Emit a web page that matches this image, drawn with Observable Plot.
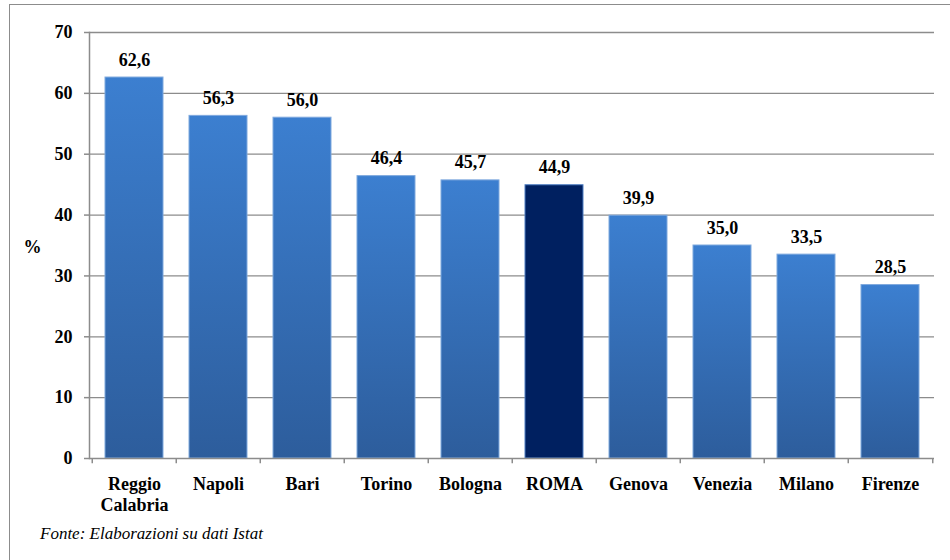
<!DOCTYPE html>
<html>
<head>
<meta charset="utf-8">
<script src="https://cdn.jsdelivr.net/npm/d3@7"></script>
<script src="https://cdn.jsdelivr.net/npm/@observablehq/plot@0.6"></script>
<style>
  html, body { margin: 0; padding: 0; background: #fff; }
  #wrap { position: relative; width: 950px; height: 560px; overflow: hidden; }
  #border { position: absolute; left: 9px; top: 4px; width: 980px; height: 600px; border: 1.5px solid #8c8c8c; box-sizing: border-box; }
  #chart { position: absolute; left: 0; top: 0; }
  #caption { position: absolute; left: 40px; top: 524px; font-family: "Liberation Serif", Tinos, "Times New Roman", Times, "DejaVu Serif", serif; font-style: italic; font-size: 17px; line-height: 20px; color: #000; }
</style>
</head>
<body>
<div id="wrap">
  <div id="border"></div>
  <div id="chart"></div>
  <div id="caption">Fonte: Elaborazioni su dati Istat</div>
</div>
<script>
const cities = ["Reggio Calabria", "Napoli", "Bari", "Torino", "Bologna", "ROMA", "Genova", "Venezia", "Milano", "Firenze"];
const cityLabels = ["Reggio\nCalabria", "Napoli", "Bari", "Torino", "Bologna", "ROMA", "Genova", "Venezia", "Milano", "Firenze"];
const values = [62.6, 56.3, 56.0, 46.4, 45.7, 44.9, 39.9, 35.0, 33.5, 28.5];
const yTicks = [0, 10, 20, 30, 40, 50, 60, 70];
const highlight = "ROMA";

const data = cities.map((c, i) => ({city: c, label: cityLabels[i], value: values[i]}));
const fmt = d3.formatLocale({decimal: ",", thousands: ".", grouping: [3], currency: ["€", ""]}).format(".1f");

const W = 950, H = 520, mL = 89, mR = 16, mT = 32, mB = 62;
const step = (W - mL - mR) / cities.length;
const gray = "#8c8c8c";
const serif = "\"Liberation Serif\", Tinos, \"Times New Roman\", Times, \"DejaVu Serif\", serif";

const plot = Plot.plot({
  width: W,
  height: H,
  marginLeft: mL,
  marginRight: mR,
  marginTop: mT,
  marginBottom: mB,
  style: {fontFamily: serif, fontSize: "18px", fontWeight: "bold", color: "#000", background: "transparent"},
  x: {domain: cities, paddingInner: 0.31, paddingOuter: 0.155, axis: null},
  y: {domain: [0, 70], ticks: yTicks, axis: null},
  marks: [
    Plot.gridY(yTicks.filter(t => t > 0), {stroke: gray, strokeOpacity: 1, strokeWidth: 1.3}),
    Plot.barY(data.filter(d => d.city !== highlight), {x: "city", y: "value", fill: "url(#barGrad)", stroke: "#7fa9de", strokeWidth: 1}),
    Plot.barY(data.filter(d => d.city === highlight), {x: "city", y: "value", fill: "#002060", stroke: "#4f7fc4", strokeWidth: 1}),
    Plot.ruleY([0], {stroke: gray, strokeWidth: 1.5}),
    Plot.frame({anchor: "left", stroke: gray, strokeWidth: 1.5}),
    Plot.ruleX(cities, {x: d => d, dx: -step / 2, y1: 0, y2: -0.85, stroke: gray, strokeWidth: 1.5}),
    Plot.ruleX(cities.slice(-1), {x: d => d, dx: step / 2, y1: 0, y2: -0.85, stroke: gray, strokeWidth: 1.5}),
    Plot.axisY({ticks: yTicks, label: null, tickSize: 5, tickPadding: 12, stroke: gray, strokeWidth: 1.5, fontSize: 18, fontFamily: serif, tickFormat: d => d}),
    Plot.text(["%"], {frameAnchor: "left", textAnchor: "middle", dx: -57, dy: 2, fontSize: 18, fontFamily: serif}),
    Plot.text(data, {x: "city", y: "value", text: d => fmt(d.value), lineAnchor: "bottom", dy: -12, fontSize: 18, fontFamily: serif}),
    Plot.text(data, {x: "city", y: 0, text: "label", lineAnchor: "top", dy: 16, fontSize: 18, lineHeight: 1.2, fontFamily: serif})
  ]
});

const ns = "http://www.w3.org/2000/svg";
const defs = document.createElementNS(ns, "defs");
const grad = document.createElementNS(ns, "linearGradient");
grad.setAttribute("id", "barGrad");
grad.setAttribute("x1", "0"); grad.setAttribute("y1", "0");
grad.setAttribute("x2", "0"); grad.setAttribute("y2", "1");
[["0%", "#3c7fd0"], ["100%", "#2d5d9c"]].forEach(([o, c]) => {
  const s = document.createElementNS(ns, "stop");
  s.setAttribute("offset", o);
  s.setAttribute("stop-color", c);
  grad.appendChild(s);
});
defs.appendChild(grad);
plot.insertBefore(defs, plot.firstChild);

document.getElementById("chart").appendChild(plot);
</script>
</body>
</html>
